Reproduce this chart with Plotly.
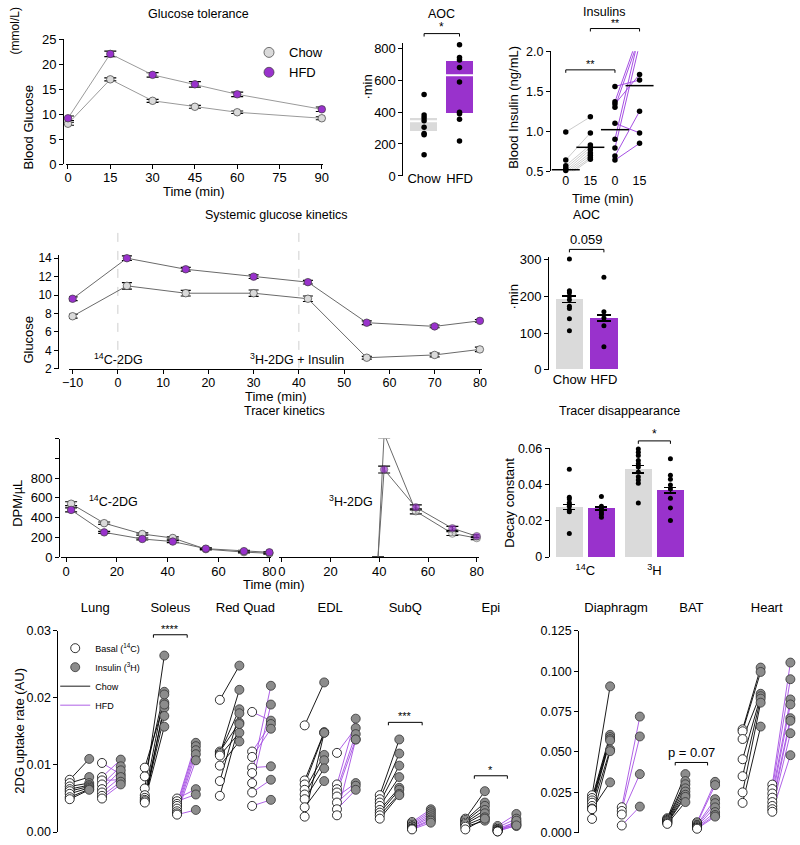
import plotly.graph_objects as go

W, H = 800, 845
FONT = "Liberation Sans, Arial, sans-serif"
CHOW_FILL = "#DADADA"
HFD_FILL = "#9932CC"
HFD_LINE = "#A64FE3"
EDGE = "#3C3C3C"
CONNECT_A = "#9A9A9A"
CONNECT_D = "#6A6A6A"

# ======================= DATA =======================
# A. Glucose tolerance (mmol/L)
gtt_time = [0, 15, 30, 45, 60, 90]
gtt_chow = [8.1, 17.0, 12.7, 11.5, 10.4, 9.2]
gtt_chow_sem = [0.3, 0.3, 0.3, 0.3, 0.25, 0.3]
gtt_hfd = [9.2, 22.1, 17.9, 16.0, 14.0, 11.0]
gtt_hfd_sem = [0.45, 0.55, 0.45, 0.55, 0.45, 0.45]

# B. AOC of GTT
diet_labels = ["Chow", "HFD"]
aoc_chow_points = [509, 381, 365, 346, 305, 266, 258, 132]
aoc_hfd_points = [821, 742, 726, 678, 588, 398, 390, 355, 219]
aoc_box_low = [278, 390]
aoc_box_high = [361, 718]
aoc_box_mid = [342, 630]

# C. Insulins (ng/mL) at 0 and 15 min
ins_time_labels = ["0", "15", "0", "15"]
ins_chow_0 = [0.99, 0.64, 0.57, 0.54, 0.51, 0.49, 0.47, 0.45, 0.43]
ins_chow_15 = [1.18, 0.98, 0.83, 0.80, 0.77, 0.73, 0.70, 0.67, 0.65]
ins_hfd_0 = [1.56, 1.37, 1.34, 1.30, 1.10, 0.90, 0.79, 0.69, 0.64]
ins_hfd_15 = [1.64, 2.24, 1.71, 2.18, 0.98, 2.22, 2.09, 1.25, 0.85]
ins_means = [0.52, 0.80, 1.02, 1.57]

# D. Systemic glucose kinetics
sgk_time = [-10, 2, 15, 30, 42, 55, 70, 80]
sgk_chow = [7.7, 11.0, 10.2, 10.2, 9.6, 3.2, 3.5, 4.1]
sgk_chow_sem = [0.2, 0.35, 0.3, 0.35, 0.3, 0.15, 0.2, 0.25]
sgk_hfd = [9.6, 14.0, 12.8, 12.0, 11.4, 7.0, 6.6, 7.2]
sgk_hfd_sem = [0.2, 0.25, 0.2, 0.2, 0.2, 0.2, 0.15, 0.15]
injection_times = [0, 40]

# E. AOC of systemic kinetics
aoc2_mean = [192, 141]
aoc2_sem = [9, 8]
aoc2_chow_points = [302, 215, 210, 200, 191, 173, 167, 139, 106]
aoc2_hfd_points = [252, 158, 141, 120, 63]

# F. Tracer kinetics (DPM/uL)
c14_time = [2, 15, 30, 42, 55, 70, 80]
c14_chow = [540, 343, 233, 193, 80, 50, 38]
c14_chow_sem = [20, 12, 12, 12, 8, 8, 8]
c14_hfd = [477, 250, 183, 157, 85, 60, 48]
c14_hfd_sem = [20, 10, 10, 10, 8, 8, 8]
h3_time = [39.5, 42, 55, 70, 80]
h3_chow = [0, 1247, 463, 238, 192]
h3_chow_sem = [0, 40, 25, 20, 15]
h3_hfd = [0, 886, 503, 291, 211]
h3_hfd_sem = [0, 35, 25, 20, 15]

# G. Tracer disappearance (decay constant)
tracer_labels = ["<sup>14</sup>C", "<sup>3</sup>H"]
decay_mean = [0.0277, 0.0268, 0.0484, 0.0369]      # 14C chow, 14C HFD, 3H chow, 3H HFD
decay_sem = [0.0015, 0.0008, 0.0020, 0.0015]
decay_points = [
    [0.0485, 0.033, 0.032, 0.030, 0.029, 0.028, 0.026, 0.025, 0.013],
    [0.0334, 0.028, 0.0267, 0.0257, 0.0244, 0.0235, 0.022],
    [0.0596, 0.0578, 0.056, 0.0533, 0.0515, 0.0497, 0.047, 0.0443, 0.0425, 0.0407, 0.0298],
    [0.0542, 0.0452, 0.043, 0.0398, 0.0376, 0.0325, 0.0271, 0.0202],
]

# H. 2DG uptake rate (AU)
tissues_left = ["Lung", "Soleus", "Red Quad", "EDL", "SubQ", "Epi"]
tissues_right = ["Diaphragm", "BAT", "Heart"]
chow_basal_left = [
    [0.0078, 0.0073, 0.0068, 0.0064, 0.0061, 0.0057, 0.0052, 0.0049],
    [0.0096, 0.0083, 0.0065, 0.0055, 0.0051, 0.0048, 0.0046, 0.0044],
    [0.0197, 0.0120, 0.0118, 0.0116, 0.0114, 0.0099, 0.0076, 0.0054],
    [0.0159, 0.0077, 0.0071, 0.0063, 0.0056, 0.0049, 0.0037, 0.0023],
    [0.0055, 0.0049, 0.0044, 0.0039, 0.0033, 0.0029, 0.0025, 0.0020],
    [0.0020, 0.0018, 0.0016, 0.0014, 0.0012, 0.0010, 0.0008, 0.0004],
]
chow_insulin_left = [
    [0.0109, 0.0082, 0.0073, 0.0070, 0.0068, 0.0066, 0.0064, 0.0063],
    [0.0193, 0.0209, 0.0263, 0.0205, 0.0185, 0.0173, 0.0157, 0.0190],
    [0.0248, 0.0163, 0.0183, 0.0212, 0.0148, 0.0135, 0.0177, 0.0161],
    [0.0223, 0.0149, 0.0148, 0.0115, 0.0107, 0.0095, 0.0076, 0.0148],
    [0.0138, 0.0117, 0.0099, 0.0082, 0.0066, 0.0063, 0.0057, 0.0055],
    [0.0061, 0.0044, 0.0039, 0.0033, 0.0028, 0.0022, 0.0017, 0.0020],
]
hfd_basal_left = [
    [0.0103, 0.0082, 0.0077, 0.0071, 0.0064, 0.0059, 0.0054, 0.0050],
    [0.0050, 0.0046, 0.0042, 0.0039, 0.0035, 0.0031, 0.0028, 0.0026],
    [0.0179, 0.0120, 0.0112, 0.0096, 0.0088, 0.0073, 0.0059, 0.0039],
    [0.0118, 0.0071, 0.0064, 0.0059, 0.0053, 0.0044, 0.0034, 0.0025],
    [0.0015, 0.0013, 0.0011, 0.0009, 0.0008, 0.0006, 0.0005, 0.0004],
    [0.0009, 0.0007, 0.0005, 0.0004, 0.0003, 0.0002, 0.0001, 0.0001],
]
hfd_insulin_left = [
    [0.0086, 0.0108, 0.0078, 0.0098, 0.0092, 0.0082, 0.0075, 0.0071],
    [0.0064, 0.0056, 0.0133, 0.0128, 0.0122, 0.0116, 0.0107, 0.0033],
    [0.0166, 0.0161, 0.0154, 0.0098, 0.0218, 0.0190, 0.0078, 0.0048],
    [0.0155, 0.0169, 0.0146, 0.0138, 0.0073, 0.0069, 0.0063, 0.0138],
    [0.0034, 0.0031, 0.0028, 0.0025, 0.0022, 0.0019, 0.0017, 0.0014],
    [0.0027, 0.0020, 0.0015, 0.0011, 0.0009, 0.0013, 0.0017, 0.0010],
]
chow_basal_right = [
    [0.0232, 0.0215, 0.0200, 0.0186, 0.0166, 0.0150, 0.0146, 0.0086],
    [0.0090, 0.0085, 0.0080, 0.0075, 0.0070, 0.0065, 0.0060, 0.0055],
    [0.0640, 0.0628, 0.0580, 0.0455, 0.0350, 0.0250, 0.0185],
]
chow_insulin_right = [
    [0.0906, 0.0606, 0.0592, 0.0580, 0.0571, 0.0515, 0.0312, 0.0505],
    [0.0363, 0.0320, 0.0300, 0.0275, 0.0255, 0.0235, 0.0222, 0.0190],
    [0.1022, 0.0995, 0.0860, 0.0845, 0.0830, 0.0805, 0.0657],
]
hfd_basal_right = [
    [0.0158, 0.0135, 0.0113, 0.0045],
    [0.0065, 0.0058, 0.0050, 0.0045, 0.0040, 0.0035, 0.0030, 0.0025],
    [0.0298, 0.0271, 0.0243, 0.0217, 0.0190, 0.0166, 0.0146, 0.0130],
]
hfd_insulin_right = [
    [0.0719, 0.0596, 0.0363, 0.0162],
    [0.0315, 0.0295, 0.0208, 0.0183, 0.0157, 0.0128, 0.0110, 0.0100],
    [0.1053, 0.0950, 0.0825, 0.0794, 0.0709, 0.0693, 0.0616, 0.0480],
]

# ======================= GEOMETRY (pixels) =======================
AX = {
    "A": dict(id=("x", "y"), xd=(60, 321), xr=(-0.7, 90.35), yd=(160, 33), yr=(0, 25)),
    "B": dict(id=("x2", "y2"), xd=(403, 480), xr=(-0.583, 1.556), yd=(172, 37), yr=(0, 830)),
    "C": dict(id=("x3", "y3"), xd=(553, 660), xr=(-0.6, 3.68), yd=(167.3, 45), yr=(0.5, 2.0)),
    "D": dict(id=("x4", "y4"), xd=(63, 483), xr=(-10.8, 80.5), yd=(368.3, 252), yr=(2, 14.4)),
    "E": dict(id=("x5", "y5"), xd=(551, 625), xr=(-0.59, 1.52), yd=(369.3, 255), yr=(0, 306)),
    "F1": dict(id=("x6", "y6"), xd=(55, 268), xr=(-1.94, 80.5), yd=(560, 439.3), yr=(0, 1200)),
    "F2": dict(id=("x7", "y6"), xd=(277, 480), xr=(-0.93, 81), yd=(560, 439.3), yr=(0, 1200)),
    "G": dict(id=("x8", "y8"), xd=(551.7, 692), xr=(-0.61, 3.69), yd=(560, 449.3), yr=(0, 0.06)),
    "H1": dict(id=("x9", "y9"), xd=(52.3, 530), xr=(-0.49, 5.77), yd=(840, 635), yr=(0, 0.03)),
    "H2": dict(id=("x10", "y10"), xd=(581.7, 799), xr=(-0.49, 2.35), yd=(840.7, 635), yr=(0, 0.125)),
}
tissue_pos_left = [0, 1, 2, 3.13, 4.13, 5.27]
tissue_pos_right = [0, 1, 2]
sub_off_left = [-0.34, -0.08, 0.09, 0.34]
sub_off_right = [-0.32, -0.08, 0.075, 0.315]
decay_pos = [g * 2.15 + d for g in range(2) for d in range(2)]


def dx(ax, v):
    a = AX[ax]
    (d0, d1), (r0, r1) = a["xd"], a["xr"]
    return d0 + (v - r0) / (r1 - r0) * (d1 - d0)


def dy(ax, v):
    a = AX[ax]
    (b, t), (r0, r1) = a["yd"], a["yr"]
    return b + (v - r0) / (r1 - r0) * (t - b)


def key(axid):
    return axid[0] + "axis" + axid[1:]


def tr(ax):
    xa, ya = AX[ax]["id"]
    return dict(xaxis=xa, yaxis=ya)


fig = go.Figure()


def note(text, x, y, size=13, angle=0, xanchor="center", yanchor="middle"):
    fig.add_annotation(text=text, x=x / W, y=1 - y / H, xref="paper", yref="paper",
                       showarrow=False, textangle=angle, xanchor=xanchor, yanchor=yanchor,
                       font=dict(size=size, color="black", family=FONT))


def bracket(ax, x0, x1, level, text, size=13, drop=3, gap=0):
    X0, X1, Y = dx(ax, x0), dx(ax, x1), dy(ax, level)
    px = lambda v: v / W
    py = lambda v: 1 - v / H
    path = (f"M {px(X0)},{py(Y + drop)} L {px(X0)},{py(Y)} "
            f"L {px(X1)},{py(Y)} L {px(X1)},{py(Y + drop)}")
    fig.add_shape(type="path", path=path, xref="paper", yref="paper",
                  line=dict(color="black", width=1))
    note(text, (X0 + X1) / 2, Y - gap, size=size, yanchor="bottom")


def err(arr, w=5):
    return dict(type="data", array=arr, color="black", thickness=1.2, width=w)


# ---------------- A: glucose tolerance ----------------
for vals, sem, fill in [(gtt_chow, gtt_chow_sem, CHOW_FILL), (gtt_hfd, gtt_hfd_sem, HFD_FILL)]:
    fig.add_trace(go.Scatter(x=gtt_time, y=vals, mode="lines+markers",
                             line=dict(color=CONNECT_A, width=1),
                             marker=dict(size=7.5, color=fill, line=dict(color=EDGE, width=0.7)),
                             error_y=err(sem, 6), cliponaxis=False, showlegend=False, **tr("A")))
for name, fill in [("Chow", CHOW_FILL), ("HFD", HFD_FILL)]:
    fig.add_trace(go.Scatter(x=[None], y=[None], mode="markers", name=name, legend="legend",
                             marker=dict(size=10, color=fill, line=dict(color=EDGE, width=0.7)),
                             **tr("A")))

# ---------------- B: AOC (GTT) ----------------
fig.add_trace(go.Bar(x=diet_labels, y=[h - l for h, l in zip(aoc_box_high, aoc_box_low)],
                     base=aoc_box_low, width=0.76, marker=dict(color=[CHOW_FILL, HFD_FILL], line_width=0),
                     showlegend=False, **tr("B")))
fig.add_trace(go.Scatter(x=diet_labels, y=aoc_box_mid, mode="markers", showlegend=False,
                         marker=dict(symbol="line-ew", size=27, line=dict(color="white", width=2)),
                         **tr("B")))
for lab, pts in [("Chow", aoc_chow_points), ("HFD", aoc_hfd_points)]:
    fig.add_trace(go.Scatter(x=[lab] * len(pts), y=pts, mode="markers", cliponaxis=False,
                             marker=dict(size=5.5, color="black"), showlegend=False, **tr("B")))
bracket("B", 0, 1, 891, "*", size=12, gap=-2)

# ---------------- C: insulins ----------------
for (a, b, x0, x1, col) in [(ins_chow_0, ins_chow_15, 0, 1, "#CCCCCC"),
                            (ins_hfd_0, ins_hfd_15, 2, 3, HFD_LINE)]:
    xs, ys = [], []
    for v0, v1 in zip(a, b):
        xs += [x0, x1, None]
        ys += [v0, v1, None]
    fig.add_trace(go.Scatter(x=xs, y=ys, mode="lines", line=dict(color=col, width=1),
                             showlegend=False, **tr("C")))
for xi, vals in enumerate([ins_chow_0, ins_chow_15, ins_hfd_0, ins_hfd_15]):
    fig.add_trace(go.Scatter(x=[xi] * len(vals), y=vals, mode="markers", cliponaxis=False,
                             marker=dict(size=5.5, color="black"), showlegend=False, **tr("C")))
fig.add_trace(go.Scatter(x=[0, 1, 2, 3], y=ins_means, mode="markers", cliponaxis=False,
                         marker=dict(symbol="line-ew", size=20, line=dict(color="black", width=1.5)),
                         showlegend=False, **tr("C")))
bracket("C", 0, 2, 1.767, "**", size=11, gap=-2)
bracket("C", 1, 3, 2.283, "**", size=10.5, gap=-3)

# ---------------- D: systemic glucose kinetics ----------------
for t in injection_times:
    X = dx("D", t)
    fig.add_shape(type="line", x0=X / W, x1=X / W, y0=1 - 230 / H, y1=1 - 368 / H,
                  xref="paper", yref="paper", layer="below",
                  line=dict(color="#CFCFCF", width=1, dash="dash"))
for vals, sem, fill in [(sgk_chow, sgk_chow_sem, CHOW_FILL), (sgk_hfd, sgk_hfd_sem, HFD_FILL)]:
    fig.add_trace(go.Scatter(x=sgk_time, y=vals, mode="lines+markers",
                             line=dict(color=CONNECT_D, width=1),
                             marker=dict(size=7.5, color=fill, line=dict(color=EDGE, width=0.7)),
                             error_y=err(sem, 5), cliponaxis=False, showlegend=False, **tr("D")))

# ---------------- E: AOC (systemic) ----------------
fig.add_trace(go.Bar(x=diet_labels, y=aoc2_mean, width=0.8,
                     marker=dict(color=[CHOW_FILL, HFD_FILL], line_width=0),
                     error_y=dict(type="data", array=aoc2_sem, color="black", thickness=1.2, width=7),
                     showlegend=False, **tr("E")))
for lab, pts in [("Chow", aoc2_chow_points), ("HFD", aoc2_hfd_points)]:
    fig.add_trace(go.Scatter(x=[lab] * len(pts), y=pts, mode="markers", cliponaxis=False,
                             marker=dict(size=5, color="black"), showlegend=False, **tr("E")))
bracket("E", 0, 1, 328, "0.059", size=13)

# ---------------- F: tracer kinetics ----------------
for vals, sem, fill in [(c14_chow, c14_chow_sem, CHOW_FILL), (c14_hfd, c14_hfd_sem, HFD_FILL)]:
    fig.add_trace(go.Scatter(x=c14_time, y=vals, mode="lines+markers",
                             line=dict(color=CONNECT_D, width=1),
                             marker=dict(size=7.5, color=fill, line=dict(color=EDGE, width=0.7)),
                             error_y=err(sem, 6), cliponaxis=False, showlegend=False, **tr("F1")))
for vals, sem, fill in [(h3_chow, h3_chow_sem, CHOW_FILL), (h3_hfd, h3_hfd_sem, HFD_FILL)]:
    fig.add_trace(go.Scatter(x=h3_time, y=vals, mode="lines+markers",
                             line=dict(color=CONNECT_D, width=1),
                             marker=dict(size=[0 if v == 0 else 7.5 for v in vals], color=fill,
                                         line=dict(color=EDGE, width=[0 if v == 0 else 0.7 for v in vals])),
                             error_y=err(sem, 6), cliponaxis=False, showlegend=False, **tr("F2")))

# ---------------- G: tracer disappearance ----------------
fig.add_trace(go.Bar(x=decay_pos, y=decay_mean, width=0.856,
                     marker=dict(color=[CHOW_FILL, HFD_FILL, CHOW_FILL, HFD_FILL], line_width=0),
                     error_y=dict(type="data", array=decay_sem, color="black", thickness=1.2, width=6),
                     showlegend=False, **tr("G")))
for xp, pts in zip(decay_pos, decay_points):
    fig.add_trace(go.Scatter(x=[xp] * len(pts), y=pts, mode="markers", cliponaxis=False,
                             marker=dict(size=5, color="black"), showlegend=False, **tr("G")))
bracket("G", decay_pos[2], decay_pos[3], 0.0641, "*", size=12, gap=-2)


# ---------------- H: 2DG uptake ----------------
def uptake_panel(ax, pos, off, cb, ci, hb, hi, show):
    for b_all, i_all, col, name, ob, oi, rank in [
            (cb, ci, "black", "Chow", off[0], off[1], 3),
            (hb, hi, HFD_LINE, "HFD", off[2], off[3], 4)]:
        xs, ys = [], []
        for t, bv, iv in zip(pos, b_all, i_all):
            for b, i in zip(bv, iv):
                xs += [t + ob, t + oi, None]
                ys += [b, i, None]
        fig.add_trace(go.Scatter(x=xs, y=ys, mode="lines", line=dict(color=col, width=0.9),
                                 name=name, legend="legend2", legendrank=rank,
                                 showlegend=show, **tr(ax)))
    for grp, oidx, fill, edge, name, rank in [
            ((cb, hb), (0, 2), "white", "black", "Basal (<sup>14</sup>C)", 1),
            ((ci, hi), (1, 3), "#8C8C8C", "#333333", "Insulin (<sup>3</sup>H)", 2)]:
        xs, ys = [], []
        for g, oi in zip(grp, oidx):
            for t, vals in zip(pos, g):
                xs += [t + off[oi]] * len(vals)
                ys += vals
        fig.add_trace(go.Scatter(x=xs, y=ys, mode="markers", cliponaxis=False,
                                 marker=dict(size=9, color=fill, line=dict(color=edge, width=0.8)),
                                 name=name, legend="legend2", legendrank=rank,
                                 showlegend=show, **tr(ax)))


uptake_panel("H1", tissue_pos_left, sub_off_left, chow_basal_left, chow_insulin_left,
             hfd_basal_left, hfd_insulin_left, True)
uptake_panel("H2", tissue_pos_right, sub_off_right, chow_basal_right, chow_insulin_right,
             hfd_basal_right, hfd_insulin_right, False)
bracket("H1", tissue_pos_left[1] - 0.225, tissue_pos_left[1] + 0.225, 0.0294, "****", size=11, gap=-2)
bracket("H1", tissue_pos_left[4] - 0.225, tissue_pos_left[4] + 0.225, 0.01635, "***", size=11, gap=-2)
bracket("H1", tissue_pos_left[5] - 0.22, tissue_pos_left[5] + 0.22, 0.00839, "*", size=11, gap=-2)
bracket("H2", tissue_pos_right[1] - 0.215, tissue_pos_right[1] + 0.215, 0.0435, "p = 0.07", size=13)

# ======================= AXES =======================
def tf(size):
    return dict(size=size, color="black", family=FONT)


base = dict(showgrid=False, zeroline=False, showline=True, linecolor="black", linewidth=1,
            ticks="outside", ticklen=4, tickwidth=1, tickcolor="black", fixedrange=True,
            tickfont=tf(13))
layout_axes = {}


def set_axes(ax, xkw, ykw, yfree=None):
    a = AX[ax]
    xa, ya = a["id"]
    xd = [a["xd"][0] / W, a["xd"][1] / W]
    yd = [1 - a["yd"][0] / H, 1 - a["yd"][1] / H]
    xc = dict(base, domain=xd, range=list(a["xr"]), anchor=ya)
    xc.update(xkw)
    layout_axes[key(xa)] = xc
    if ykw is not None:
        yc = dict(base, domain=yd, range=list(a["yr"]), anchor=xa)
        if yfree is not None:
            yc.update(anchor="free", position=yfree / W)
        yc.update(ykw)
        layout_axes[key(ya)] = yc


nolinex = dict(showline=False, ticks="")
set_axes("A", dict(tick0=0, dtick=15, ticklabelstandoff=-3), dict(dtick=5), yfree=57)
set_axes("B", dict(nolinex, type="category", ticklabelstandoff=-7), dict(dtick=200))
set_axes("C", dict(nolinex, tickvals=[0, 1, 2, 3], ticktext=ins_time_labels, tickfont=tf(12.5)),
         dict(tickvals=[0.5, 1.0, 1.5, 2.0], tickformat=".1f", tickfont=tf(12.5)))
set_axes("D", dict(tick0=0, dtick=10, tickfont=tf(12.5), ticklabelstandoff=-2),
         dict(dtick=2, tickfont=tf(12)), yfree=52)
set_axes("E", dict(nolinex, type="category"), dict(dtick=100))
set_axes("F1", dict(tick0=0, dtick=20, ticklabelstandoff=-2),
         dict(tickvals=[0, 200, 400, 600, 800, 1000, 1200], ticktext=["0", "200", "400", "600", "800", "", ""]),
         yfree=53)
set_axes("F2", dict(tick0=0, dtick=20, ticklabelstandoff=-2), None)
set_axes("G", dict(nolinex, tickvals=[(decay_pos[0] + decay_pos[1]) / 2, (decay_pos[2] + decay_pos[3]) / 2],
                   ticktext=tracer_labels, ticklabelstandoff=4),
         dict(tickvals=[0, 0.02, 0.04, 0.06], ticktext=["0", "0.02", "0.04", "0.06"], tickfont=tf(12.5)))
toptick = dict(showline=False, side="top", ticks="outside", ticklen=13, tickcolor="rgba(0,0,0,0)")
set_axes("H1", dict(toptick, tickvals=tissue_pos_left, ticktext=tissues_left),
         dict(tickvals=[0, 0.01, 0.02, 0.03], tickformat=".2f", tickfont=tf(12.5)))
set_axes("H2", dict(toptick, tickvals=tissue_pos_right, ticktext=tissues_right),
         dict(tickvals=[0, 0.025, 0.05, 0.075, 0.1, 0.125], tickformat=".3f", tickfont=tf(12.5)))

# ======================= TEXT =======================
note("Glucose tolerance", 195, 7, 12.5)
note("AOC", 442, 7, 12.5)
note("Insulins", 607, 5, 12.5)
note("Systemic glucose kinetics", 273, 212, 12.5)
note("AOC", 589, 212, 12.5)
note("Tracer kinetics", 282, 411, 12.5)
note("Tracer disappearance", 623, 411, 12.5)
note("(mmol/L)", 8, 24, 12, angle=-90)
note("Blood Glucose", 22, 122, 13, angle=-90)
note("Time (min)", 190, 188, 13)
note("·min", 366, 82, 13, angle=-90)
note("Blood Insulin (ng/mL)", 515, 102, 13, angle=-90)
note("Time (min)", 606, 195, 13)
note("Glucose", 22, 339, 13, angle=-90)
note("Time (min)", 273, 397, 13)
note("·min", 515, 295, 13, angle=-90)
note("DPM/µL", 10, 505, 13, angle=-90)
note("Time (min)", 271, 588, 13)
note("Decay constant", 510, 505, 13, angle=-90)
note("2DG uptake rate (AU)", 13, 737, 13, angle=-90)
note("<sup>14</sup>C-2DG", 113, 358, 12.5)
note("<sup>3</sup>H-2DG + Insulin", 295, 358, 12.5)
note("<sup>14</sup>C-2DG", 108, 503, 12.5)
note("<sup>3</sup>H-2DG", 350, 503, 12.5)

fig.update_layout(
    width=W, height=H, autosize=False,
    margin=dict(l=0, r=0, t=0, b=0, pad=0),
    paper_bgcolor="white", plot_bgcolor="rgba(0,0,0,0)",
    font=dict(family=FONT, color="black", size=13),
    bargap=0,
    legend=dict(x=246 / W, y=1 - 31 / H, xanchor="left", yanchor="top", bgcolor="rgba(0,0,0,0)",
                font=dict(size=13, family=FONT, color="black"), itemsizing="trace",
                tracegroupgap=0, itemwidth=30),
    legend2=dict(x=49 / W, y=1 - 638 / H, xanchor="left", yanchor="top", bgcolor="rgba(0,0,0,0)",
                 font=dict(size=9, family=FONT, color="black"), itemsizing="trace",
                 tracegroupgap=0, itemwidth=30),
    **layout_axes,
)

fig.write_html("out.html", config={"displayModeBar": False},
               post_script="document.body.style.margin='0';document.body.style.overflow='hidden';")
